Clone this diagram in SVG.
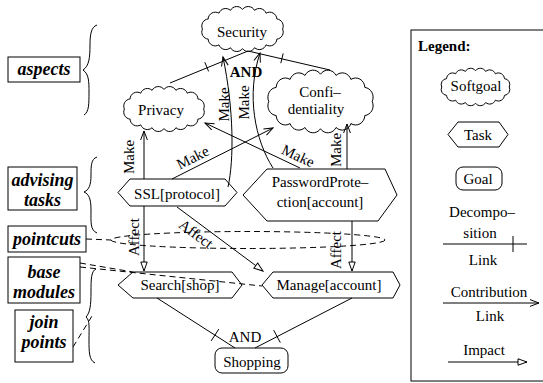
<svg xmlns="http://www.w3.org/2000/svg" width="543" height="383" viewBox="0 0 543 383">
<defs>
<style>
.t{font-family:"Liberation Serif","Times New Roman",serif;font-size:15px;fill:#000;text-anchor:middle}
.st{text-anchor:start}
.b{font-weight:bold}
.lb{font-family:"Liberation Serif","Times New Roman",serif;font-size:18px;font-weight:bold;font-style:italic;text-anchor:middle;fill:#000}
.sh{fill:#fff;stroke:#000;stroke-width:1}
.ln{fill:none;stroke:#000;stroke-width:1}
.da{fill:none;stroke:#000;stroke-width:1;stroke-dasharray:6 4}
.make{marker-end:url(#v)}
.aff{marker-end:url(#tri)}
</style>
<path id="cloud" vector-effect="non-scaling-stroke" d="M95,27 A8,8 0 0 1 88.57,38.33 A8,8 0 0 1 76.45,44.8 A8,8 0 0 1 63.53,47.98 A8,8 0 0 1 50,49 A8,8 0 0 1 36.47,47.98 A8,8 0 0 1 23.55,44.8 A8,8 0 0 1 11.43,38.33 A8,8 0 0 1 5,27 A8,8 0 0 1 11.43,15.67 A8,8 0 0 1 23.55,9.2 A8,8 0 0 1 36.47,6.02 A8,8 0 0 1 50,5 A8,8 0 0 1 63.53,6.02 A8,8 0 0 1 76.45,9.2 A8,8 0 0 1 88.57,15.67 A8,8 0 0 1 95,27 Z"/>
<marker id="v" markerUnits="userSpaceOnUse" markerWidth="12" markerHeight="10" refX="10" refY="5" orient="auto"><path d="M1,1.6 L10,5 L1,8.4" fill="none" stroke="#000" stroke-width="1"/></marker>
<marker id="tri" markerUnits="userSpaceOnUse" markerWidth="12" markerHeight="10" refX="10" refY="5" orient="auto"><path d="M1,1.8 L10,5 L1,8.2 Z" fill="#fff" stroke="#000" stroke-width="1"/></marker>
</defs>
<rect width="543" height="383" fill="#fff"/>

<!-- nodes -->
<g id="security"><use href="#cloud" class="sh" transform="translate(198,5) scale(0.89,0.89)"/><text class="t" x="242" y="37">Security</text></g>
<g id="privacy"><use href="#cloud" class="sh" transform="translate(120,85) scale(0.88,0.89)"/><text class="t" x="161" y="115">Privacy</text></g>
<g id="confidentiality"><use href="#cloud" class="sh" transform="translate(263,68) scale(1.15,1.24)"/><text class="t" x="320" y="97">Confi–</text><text class="t" x="316" y="114">dentiality</text></g>
<g id="ssl"><polygon class="sh" points="118,192.5 130,179 225,179 237,192.5 225,206 130,206"/><text class="t" x="177" y="199">SSL[protocol]</text></g>
<g id="password"><polygon class="sh" points="243,195 267,169 385,169 397,195 378,221 267,221"/><text class="t" x="320" y="187">PasswordProte–</text><text class="t" x="320" y="207">ction[account]</text></g>
<g id="search"><polygon class="sh" points="118,285 133,272 232,272 242,285 232,298 133,298"/><text class="t" x="180" y="290">Search[shop]</text></g>
<g id="manage"><polygon class="sh" points="262,285 273,272 393,272 400,285 393,298 273,298"/><text class="t" x="329" y="290">Manage[account]</text></g>
<g id="shopping"><rect class="sh" x="215" y="348" width="73" height="25" rx="7"/><text class="t" x="252" y="367">Shopping</text></g>

<!-- connectors -->
<g id="connectors">
<path class="ln" d="M170,83 L248,51 L330,70"/>
<path class="ln" d="M204.8,62.2 L208.6,71.4 M283.2,53.4 L280.8,63.2"/>
<text class="t b" x="246" y="77">AND</text>
<path class="ln make" d="M228,187 C234,160 234,110 223,57"/>
<path class="ln make" d="M273,168 C255,140 246,95 260,53"/>
<path class="ln make" d="M144,179 L144,131"/>
<path class="ln make" d="M347,169 L347,124"/>
<path class="ln make" d="M172,179 L273,128"/>
<path class="ln make" d="M300,168 L205,123"/>
<text class="t" transform="translate(229,104.5) rotate(-90)">Make</text>
<text class="t" transform="translate(249,102.5) rotate(-90)">Make</text>
<text class="t" transform="translate(134,157) rotate(-90)">Make</text>
<text class="t" transform="translate(341,150) rotate(-90)">Make</text>
<text class="t" transform="translate(195,162) rotate(-26.7)">Make</text>
<text class="t" transform="translate(296,160.5) rotate(24.8)">Make</text>
<path class="ln aff" d="M144,206 L144,271"/>
<path class="ln aff" d="M177,207 L263,271"/>
<path class="ln aff" d="M352,221 L352,271"/>
<text class="t" transform="translate(139,237) rotate(-90)">Affect</text>
<text class="t" transform="translate(341,250) rotate(-90)">Affect</text>
<text class="t" transform="translate(193,238) rotate(36.5)">Affect</text>
<path class="ln" d="M157,298 L235,348 M352,298 L255,348"/>
<path class="ln" d="M218.8,329.1 L211.2,340.9 M273.7,330.2 L280.3,342.6"/>
<text class="t" x="245" y="342">AND</text>
<ellipse class="da" cx="248" cy="240" rx="137" ry="8.5"/>
<path class="da" d="M86,239 L111,240"/>
<path class="da" d="M80,263 L133,272"/>
<path class="da" d="M80,267 L262,286"/>
<path class="da" d="M73,347 L92,316"/>
</g>

<!-- left annotations -->
<g id="aspects"><rect class="sh" x="8" y="57" width="72" height="25"/><text class="lb" x="44" y="75">aspects</text></g>
<g id="advising-tasks"><rect class="sh" x="8" y="167" width="69" height="43"/><text class="lb" x="42.5" y="186">advising</text><text class="lb" x="42.5" y="206">tasks</text></g>
<g id="pointcuts"><rect class="sh" x="8" y="226" width="78" height="26"/><text class="lb" x="47" y="245">pointcuts</text></g>
<g id="base-modules"><rect class="sh" x="8" y="257" width="72" height="46"/><text class="lb" x="44" y="278">base</text><text class="lb" x="44" y="298">modules</text></g>
<g id="join-points"><rect class="sh" x="15" y="310" width="58" height="52"/><text class="lb" x="44" y="328">join</text><text class="lb" x="44" y="348">points</text></g>
<g id="braces">
<path class="ln" d="M97,25 C91,27 90,35 90,45 C90,58 89,66 83,70 C89,74 89,82 89,92 C89,104 89,112 84,115"/>
<path class="ln" d="M97,157 C91,159 91,166 91,175 C91,185 89,190 84,192 C89,194 91,199 91,210 C91,222 90,230 97,233"/>
<path class="ln" d="M96,269 C91,271 91,280 91,292 C91,305 90,313 86,317 C90,320 89,328 89,340 C89,352 89,360 95,363"/>
</g>

<!-- legend -->
<g id="legend">
<rect class="sh" x="411" y="30" width="140" height="351"/>
<text class="t b st" x="418" y="51">Legend:</text>
<g id="legend-softgoal"><use href="#cloud" class="sh" transform="translate(438,67) scale(0.75,0.74)"/><text class="t" x="476" y="91">Softgoal</text></g>
<g id="legend-task"><polygon class="sh" points="448,134.5 458,122 499,122 508,134.5 499,147 458,147"/><text class="t" x="478" y="140">Task</text></g>
<g id="legend-goal"><rect class="sh" x="456" y="167" width="46" height="23" rx="7"/><text class="t" x="478" y="183.5">Goal</text></g>
<g id="legend-decomposition"><text class="t" x="482" y="217">Decompo–</text><text class="t" x="480" y="238">sition</text><path class="ln" d="M443,244 L527,244 M513,236 L513,252"/><text class="t" x="483" y="265">Link</text></g>
<g id="legend-contribution"><text class="t" x="489" y="297">Contribution</text><path class="ln make" d="M443,303 L539,303"/><text class="t" x="490" y="321">Link</text></g>
<g id="legend-impact"><text class="t" x="484" y="355">Impact</text><path class="ln aff" d="M448,362 L527,362"/></g>
</g>
</svg>
